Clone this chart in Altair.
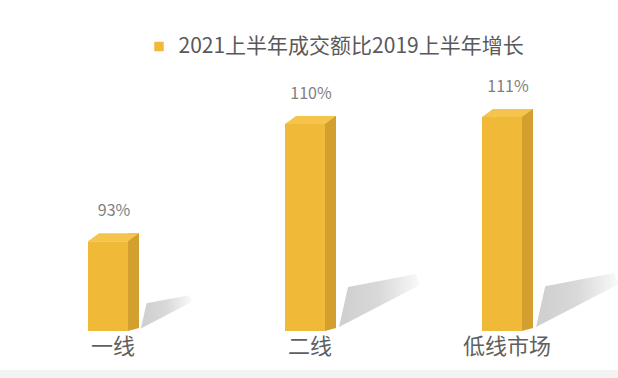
import altair as alt
import pandas as pd

categories = ["一线", "二线", "低线市场"]
values = [93, 110, 111]
value_labels = ["93%", "110%", "111%"]
series_name = "2021上半年成交额比2019上半年增长"

df = pd.DataFrame({
    "cat": categories,
    "val": values,
    "label": value_labels,
    "series": [series_name] * len(categories),
    "base": [80] * len(categories),
})

FONT = "Noto Sans CJK SC"
FRONT = "#F0BA38"
SIDE = "#D3A02F"
TOP = "#F4C44C"

x_enc = alt.X("cat:N", sort=categories,
              scale=alt.Scale(paddingInner=0, paddingOuter=0),
              axis=alt.Axis(title=None, labelAngle=0, domain=False, ticks=False,
                            grid=False, labelFontSize=22, labelColor="#5F5F5F",
                            labelFont=FONT, labelPadding=5))
y_scale = alt.Scale(domain=[80, 120], zero=False, nice=False)
y_enc = alt.Y("val:Q", scale=y_scale, axis=None)

base = alt.Chart(df)

strip = base.mark_rect(color="#F3F3F3").encode(
    x=alt.value(-15), x2=alt.value(604), y=alt.value(315), y2=alt.value(323)
)

shadow = base.mark_point(
    shape="M 3 -4 L 12 -44 L 80 -57 L 84 -46 Z",
    filled=True, opacity=0.75, strokeWidth=0, xOffset=26,
    fill=alt.LinearGradient(
        gradient="linear", x1=0, y1=0, x2=1, y2=0,
        stops=[alt.GradientStop(color="#BEBEBE", offset=0),
               alt.GradientStop(color="#CCCCCC", offset=0.5),
               alt.GradientStop(color="#F8F8F8", offset=1)])
).encode(
    x=x_enc,
    y=alt.Y("base:Q", scale=y_scale, axis=None),
    size=alt.Size("val:Q", legend=None,
                  scale=alt.Scale(type="pow", exponent=2, domain=[80, 110], range=[0, 4])),
)

side = base.mark_bar(size=11, xOffset=20.5, yOffset=-8, y2Offset=-3, color=SIDE).encode(
    x=x_enc, y=y_enc, y2=alt.Y2("base:Q")
)

side_bottom = base.mark_point(
    shape="M 15 -3 L 26 -3 L 15 0 Z", size=4, filled=True, opacity=1,
    strokeWidth=0, fill=SIDE
).encode(x=x_enc, y=alt.Y("base:Q", scale=y_scale, axis=None))

front = base.mark_bar(size=40, xOffset=-5).encode(
    x=x_enc, y=y_enc, y2=alt.Y2("base:Q"),
    color=alt.Color("series:N", scale=alt.Scale(range=[FRONT]),
                    legend=alt.Legend(title=None, orient="none", legendX=134, legendY=-19,
                                      symbolType="square", symbolSize=90,
                                      symbolStrokeWidth=0, labelFontSize=21,
                                      labelFont=FONT, labelColor="#595959",
                                      labelOffset=9, padding=0, labelLimit=500)),
)

top = base.mark_point(
    shape="M -25 0 L -14 -8 L 26 -8 L 15 0 Z", size=4, filled=True, opacity=1,
    strokeWidth=0, fill=TOP
).encode(x=x_enc, y=y_enc)

text = base.mark_text(dy=-25, baseline="alphabetic", fontSize=16, font=FONT,
                      color="#808080", dx=1).encode(
    x=x_enc, y=y_enc, text="label:N"
)

chart = alt.layer(strip, shadow, side, side_bottom, front, top, text).properties(
    width=591, height=276,
    autosize=alt.AutoSizeParams(type="none"),
    padding={"left": 14.5, "top": 55, "right": 12.5, "bottom": 47},
    background="white",
).configure_view(stroke=None)

chart.save("out.html", embed_options={"renderer": "svg", "actions": False})
